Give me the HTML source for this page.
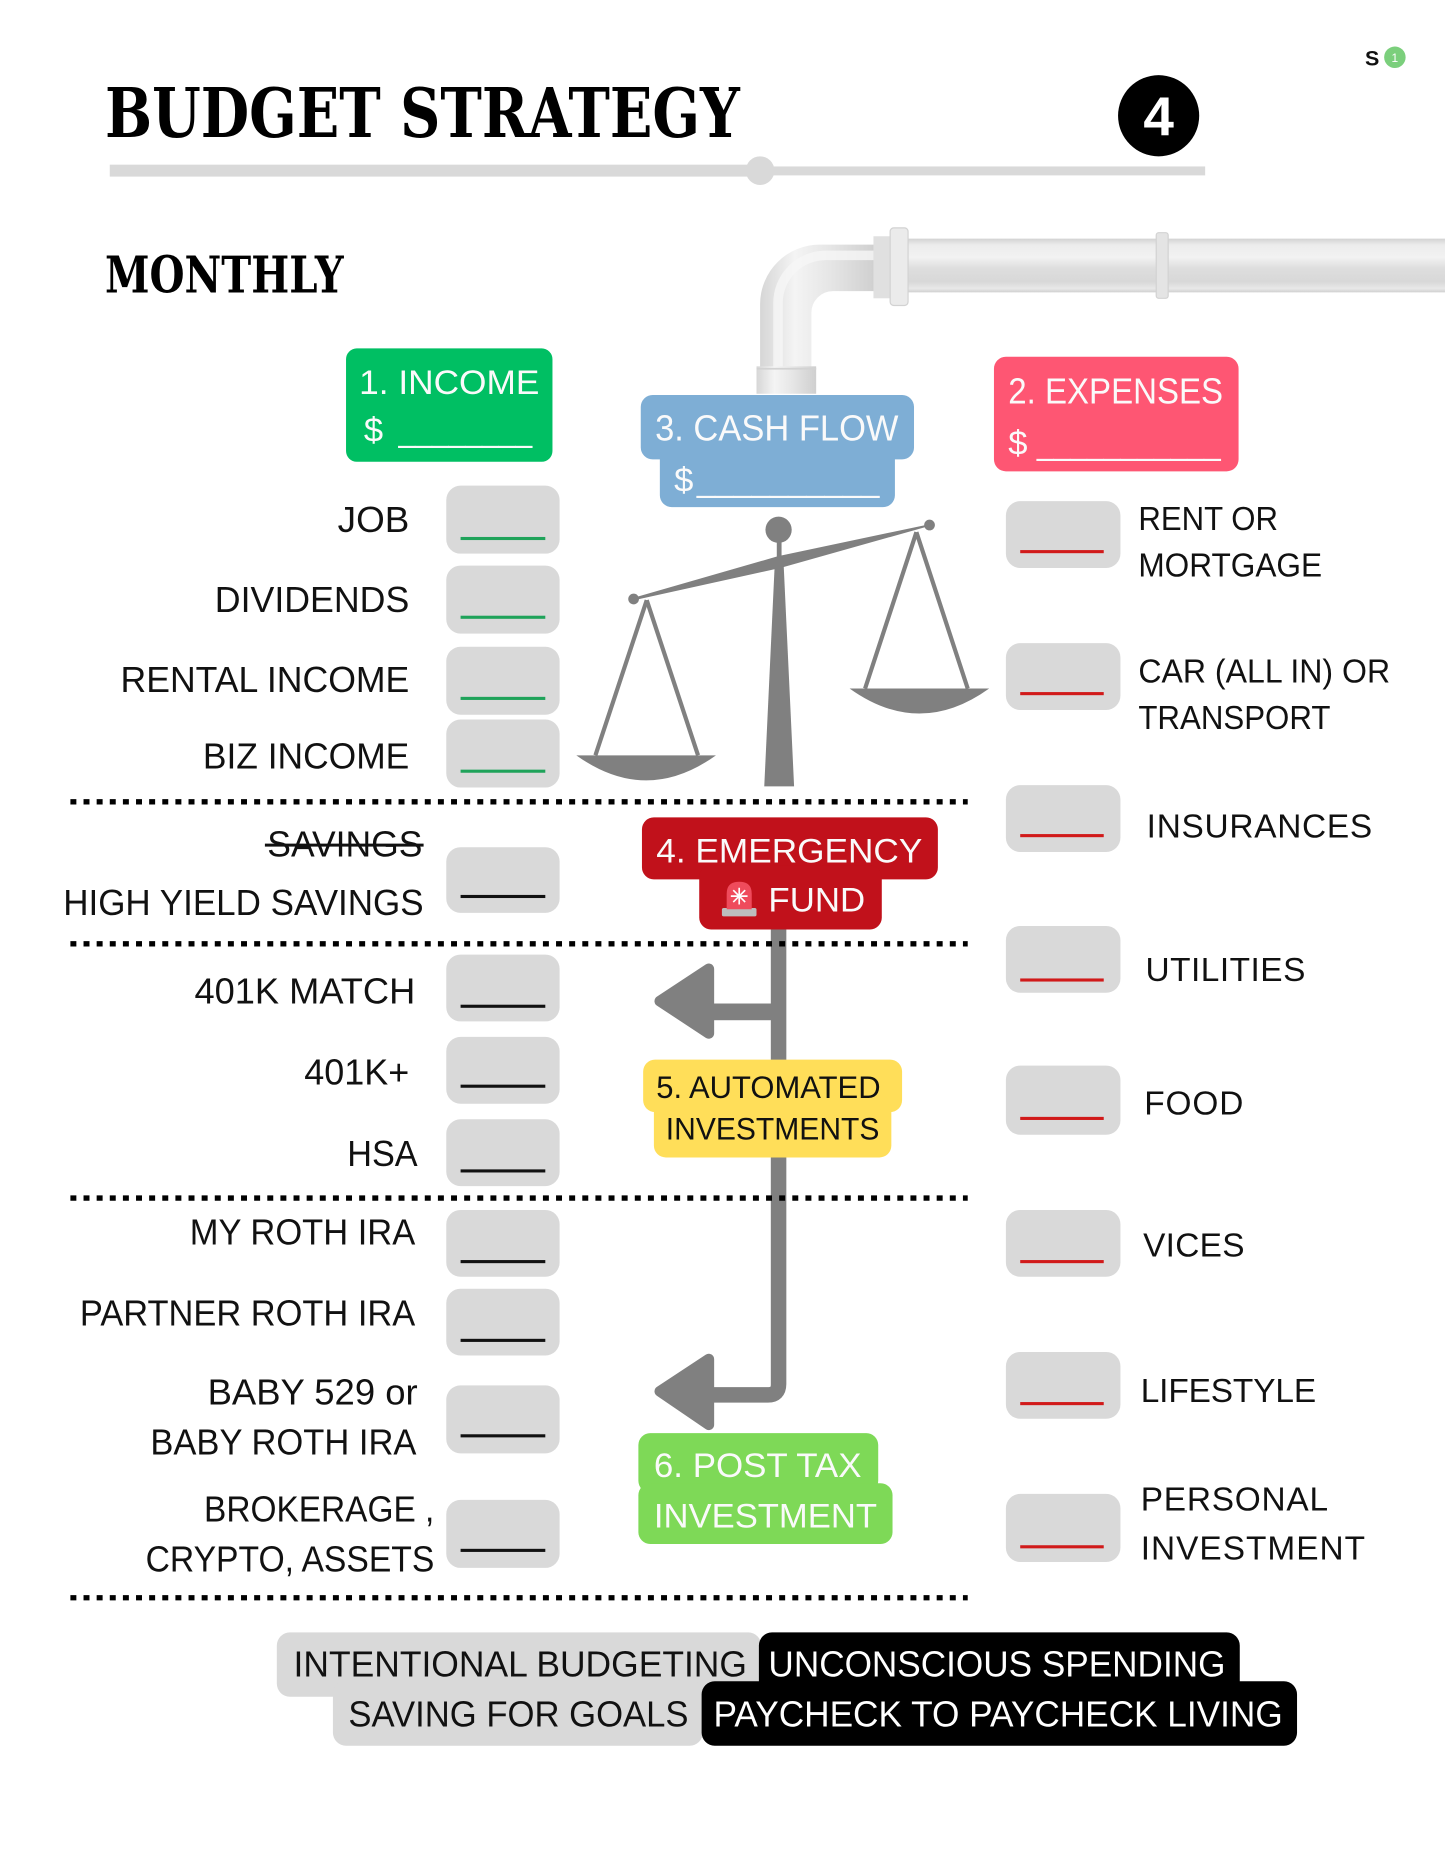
<!DOCTYPE html>
<html>
<head>
<meta charset="utf-8">
<style>
html,body{margin:0;padding:0;background:#fff;}
svg{display:block;}
text{font-family:"Liberation Sans","DejaVu Sans",sans-serif;}
.ser{font-family:"DejaVu Serif","Liberation Serif",serif;font-weight:bold;}
.lbl{font-size:30px;fill:#111;}
.rl{font-size:28px;fill:#111;}
.wt{fill:#fafafa;}
</style>
</head>
<body>
<svg width="1445" height="1871" viewBox="0 0 1211 1568" preserveAspectRatio="none" xmlns="http://www.w3.org/2000/svg">
<defs>
<linearGradient id="hp" x1="0" y1="0" x2="0" y2="1">
<stop offset="0" stop-color="#d2d2d2"/>
<stop offset="0.12" stop-color="#ececec"/>
<stop offset="0.35" stop-color="#f2f2f2"/>
<stop offset="0.55" stop-color="#dedede"/>
<stop offset="0.8" stop-color="#d8d8d8"/>
<stop offset="0.93" stop-color="#e8e8e8"/>
<stop offset="1" stop-color="#cfcfcf"/>
</linearGradient>
<linearGradient id="vp" x1="0" y1="0" x2="1" y2="0">
<stop offset="0" stop-color="#d6d6d6"/>
<stop offset="0.3" stop-color="#f4f4f4"/>
<stop offset="0.6" stop-color="#e6e6e6"/>
<stop offset="1" stop-color="#cfcfcf"/>
</linearGradient>
</defs>
<rect x="0" y="0" width="1211" height="1568" fill="#ffffff"/>

<!-- Header -->
<text class="ser" x="88" y="115" font-size="57" textLength="532" lengthAdjust="spacingAndGlyphs" fill="#000">BUDGET STRATEGY</text>
<circle cx="971" cy="97" r="34" fill="#000"/>
<text x="971" y="113" font-size="46" font-weight="bold" fill="#fff" text-anchor="middle">4</text>
<text x="1144" y="55" font-size="18" font-weight="bold" fill="#111">S</text>
<circle cx="1169" cy="48" r="9" fill="#7bcf7c"/>
<text x="1169" y="52" font-size="10" fill="#fff" text-anchor="middle">1</text>

<rect x="92" y="138" width="545" height="10" fill="#d9d9d9"/>
<rect x="637" y="139.5" width="373" height="7.5" fill="#d9d9d9"/>
<circle cx="637" cy="143" r="12" fill="#d9d9d9"/>

<text class="ser" x="88" y="245" font-size="42" textLength="200" lengthAdjust="spacingAndGlyphs" fill="#000">MONTHLY</text>

<!-- Pipe -->
<rect x="740" y="200" width="471" height="45" fill="url(#hp)"/>
<path d="M734 205 H687 A50 50 0 0 0 637 255 V309 H680 V262 A18 18 0 0 1 698 244 H734 Z" fill="url(#vp)"/>
<path d="M734 214 H692 A40 40 0 0 0 652 254 V309" fill="none" stroke="#f6f6f6" stroke-width="8" opacity="0.8"/>
<rect x="732" y="198" width="15" height="52" fill="#e0e0e0"/>
<rect x="746" y="191" width="15" height="65" rx="3" fill="#ebebeb" stroke="#d2d2d2" stroke-width="1"/>
<rect x="969" y="195" width="10" height="55" rx="2" fill="#e4e4e4" stroke="#d2d2d2" stroke-width="1"/>
<rect x="634" y="307" width="50" height="23" fill="url(#vp)"/>
<line x1="634" y1="309" x2="684" y2="309" stroke="#d2d2d2" stroke-width="1.5"/>

<!-- Income box -->
<rect x="290" y="292" width="173" height="95" rx="9" fill="#00bf63"/>
<text class="wt" x="301" y="330" font-size="29" textLength="151" lengthAdjust="spacingAndGlyphs">1. INCOME</text>
<text class="wt" x="305" y="370" font-size="29">$</text>
<text class="wt" x="334" y="370" font-size="28" textLength="112" lengthAdjust="spacingAndGlyphs">________</text>

<!-- Cash flow box -->
<rect x="537" y="331" width="229" height="54" rx="10" fill="#7eaed5"/>
<rect x="553" y="372" width="197" height="53" rx="10" fill="#7eaed5"/>
<text class="wt" x="549" y="369" font-size="30" textLength="204" lengthAdjust="spacingAndGlyphs">3. CASH FLOW</text>
<text class="wt" x="565" y="412" font-size="29">$</text>
<text class="wt" x="584" y="412" font-size="28" textLength="153" lengthAdjust="spacingAndGlyphs">__________</text>

<!-- Expenses box -->
<rect x="833" y="299" width="205" height="96" rx="10" fill="#fe5673"/>
<text class="wt" x="845" y="338" font-size="30" textLength="180" lengthAdjust="spacingAndGlyphs">2. EXPENSES</text>
<text class="wt" x="845" y="381" font-size="29">$</text>
<text class="wt" x="869" y="381" font-size="28" textLength="154" lengthAdjust="spacingAndGlyphs">___________</text>

<!-- Scale -->
<g fill="#808080" stroke="none">
<rect x="651" y="444" width="4" height="30"/>
<circle cx="652.5" cy="444" r="11"/>
<polygon points="649.5,468 656.5,468 665.5,659 640.5,659"/>
<polygon points="530.8,501 651.8,466.2 779,439.3 779.2,440.7 654.2,475.9 531.2,503"/>
<circle cx="531" cy="502" r="4.5"/>
<circle cx="779" cy="440" r="4.5"/>
<path d="M483 633 H600 Q541.5 675 483 633 Z"/>
<path d="M712 577 H829 Q770.5 619 712 577 Z"/>
</g>
<g stroke="#808080" stroke-width="3.5" fill="none">
<line x1="542" y1="503" x2="499" y2="633"/>
<line x1="542" y1="503" x2="585" y2="633"/>
<line x1="768" y1="446" x2="725" y2="577"/>
<line x1="768" y1="446" x2="811" y2="577"/>
</g>

<!-- Connector & arrows -->
<path d="M652.5 775 V1160 Q652.5 1169 643.5 1169 H590" fill="none" stroke="#808080" stroke-width="13"/>
<rect x="590" y="841" width="62" height="14" fill="#808080"/>
<polygon points="553,839 594,812 594,866" fill="#808080" stroke="#808080" stroke-width="9" stroke-linejoin="round"/>
<polygon points="553,1166 594,1139 594,1194" fill="#808080" stroke="#808080" stroke-width="9" stroke-linejoin="round"/>

<!-- Emergency fund -->
<rect x="538" y="685" width="248" height="52" rx="10" fill="#c1111b"/>
<rect x="586" y="725" width="153" height="54" rx="10" fill="#c1111b"/>
<text class="wt" x="550" y="723" font-size="29" textLength="223" lengthAdjust="spacingAndGlyphs">4.  EMERGENCY</text>
<rect x="605" y="761" width="29" height="7" rx="1.5" fill="#bdbdbd"/>
<path d="M609 762 V749 Q609 739 619.5 739 Q630 739 630 749 V762 Z" fill="#ef4b5c"/>
<g stroke="#fff" stroke-width="1.4">
<line x1="619.5" y1="744" x2="619.5" y2="758"/>
<line x1="612.5" y1="751" x2="626.5" y2="751"/>
<line x1="614.5" y1="746" x2="624.5" y2="756"/>
<line x1="624.5" y1="746" x2="614.5" y2="756"/>
</g>
<text class="wt" x="644" y="764" font-size="29" textLength="81" lengthAdjust="spacingAndGlyphs">FUND</text>

<!-- Automated investments -->
<rect x="539" y="888" width="217" height="44" rx="10" fill="#ffde59"/>
<rect x="548" y="918" width="199" height="52" rx="10" fill="#ffde59"/>
<text x="550" y="920" font-size="26" textLength="188" lengthAdjust="spacingAndGlyphs" fill="#111">5. AUTOMATED</text>
<text x="558" y="955" font-size="26" textLength="179" lengthAdjust="spacingAndGlyphs" fill="#111">INVESTMENTS</text>

<!-- Post tax -->
<rect x="535" y="1201" width="201" height="50" rx="10" fill="#7ed957"/>
<rect x="535" y="1243" width="213" height="51" rx="10" fill="#7ed957"/>
<text class="wt" x="548" y="1238" font-size="29" textLength="174" lengthAdjust="spacingAndGlyphs">6. POST TAX</text>
<text class="wt" x="548" y="1280" font-size="29" textLength="187" lengthAdjust="spacingAndGlyphs">INVESTMENT</text>

<!-- Left boxes -->
<g fill="#d9d9d9">
<rect x="374" y="407" width="95" height="57" rx="12"/>
<rect x="374" y="474" width="95" height="57" rx="12"/>
<rect x="374" y="542" width="95" height="57" rx="12"/>
<rect x="374" y="603" width="95" height="57" rx="12"/>
<rect x="374" y="710" width="95" height="55" rx="12"/>
<rect x="374" y="800" width="95" height="56" rx="12"/>
<rect x="374" y="869" width="95" height="56" rx="12"/>
<rect x="374" y="938" width="95" height="56" rx="12"/>
<rect x="374" y="1014" width="95" height="56" rx="12"/>
<rect x="374" y="1080" width="95" height="56" rx="12"/>
<rect x="374" y="1161" width="95" height="57" rx="12"/>
<rect x="374" y="1257" width="95" height="57" rx="12"/>
</g>
<g fill="#1fa35a">
<rect x="386" y="450" width="71" height="2.6"/>
<rect x="386" y="516" width="71" height="2.6"/>
<rect x="386" y="584" width="71" height="2.6"/>
<rect x="386" y="645" width="71" height="2.6"/>
</g>
<g fill="#111">
<rect x="386" y="750" width="71" height="2.6"/>
<rect x="386" y="842" width="71" height="2.6"/>
<rect x="386" y="909" width="71" height="2.6"/>
<rect x="386" y="980" width="71" height="2.6"/>
<rect x="386" y="1056" width="71" height="2.6"/>
<rect x="386" y="1122" width="71" height="2.6"/>
<rect x="386" y="1202" width="71" height="2.6"/>
<rect x="386" y="1298" width="71" height="2.6"/>
</g>

<!-- Left labels -->
<text class="lbl" x="283" y="446" textLength="60" lengthAdjust="spacingAndGlyphs">JOB</text>
<text class="lbl" x="180" y="513" textLength="163" lengthAdjust="spacingAndGlyphs">DIVIDENDS</text>
<text class="lbl" x="101" y="580" textLength="242" lengthAdjust="spacingAndGlyphs">RENTAL INCOME</text>
<text class="lbl" x="170" y="644" textLength="173" lengthAdjust="spacingAndGlyphs">BIZ INCOME</text>
<text class="lbl" x="224" y="718" textLength="130" lengthAdjust="spacingAndGlyphs">SAVINGS</text>
<rect x="222" y="707" width="133" height="2.5" fill="#111"/>
<text class="lbl" x="53" y="767" textLength="302" lengthAdjust="spacingAndGlyphs">HIGH YIELD SAVINGS</text>
<text class="lbl" x="163" y="841" textLength="185" lengthAdjust="spacingAndGlyphs">401K MATCH</text>
<text class="lbl" x="255" y="909" textLength="88" lengthAdjust="spacingAndGlyphs">401K+</text>
<text class="lbl" x="291" y="977" textLength="59" lengthAdjust="spacingAndGlyphs">HSA</text>
<text class="lbl" x="159" y="1043" textLength="189" lengthAdjust="spacingAndGlyphs">MY ROTH IRA</text>
<text class="lbl" x="67" y="1111" textLength="281" lengthAdjust="spacingAndGlyphs">PARTNER ROTH IRA</text>
<text class="lbl" x="174" y="1177" textLength="176" lengthAdjust="spacingAndGlyphs">BABY 529 or</text>
<text class="lbl" x="126" y="1219" textLength="223" lengthAdjust="spacingAndGlyphs">BABY ROTH IRA</text>
<text class="lbl" x="171" y="1275" textLength="193" lengthAdjust="spacingAndGlyphs">BROKERAGE ,</text>
<text class="lbl" x="122" y="1317" textLength="242" lengthAdjust="spacingAndGlyphs">CRYPTO, ASSETS</text>

<!-- Right boxes -->
<g fill="#d9d9d9">
<rect x="843" y="420" width="96" height="56" rx="12"/>
<rect x="843" y="539" width="96" height="56" rx="12"/>
<rect x="843" y="658" width="96" height="56" rx="12"/>
<rect x="843" y="776" width="96" height="56" rx="12"/>
<rect x="843" y="893" width="96" height="58" rx="12"/>
<rect x="843" y="1014" width="96" height="56" rx="12"/>
<rect x="843" y="1133" width="96" height="56" rx="12"/>
<rect x="843" y="1252" width="96" height="57" rx="12"/>
</g>
<g fill="#d11a1a">
<rect x="855" y="461" width="70" height="2.6"/>
<rect x="855" y="580" width="70" height="2.6"/>
<rect x="855" y="699" width="70" height="2.6"/>
<rect x="855" y="820" width="70" height="2.6"/>
<rect x="855" y="936" width="70" height="2.6"/>
<rect x="855" y="1056" width="70" height="2.6"/>
<rect x="855" y="1175" width="70" height="2.6"/>
<rect x="855" y="1295" width="70" height="2.6"/>
</g>

<!-- Right labels -->
<text class="rl" x="954" y="444" textLength="117" lengthAdjust="spacingAndGlyphs">RENT OR</text>
<text class="rl" x="954" y="483" textLength="154" lengthAdjust="spacingAndGlyphs">MORTGAGE</text>
<text class="rl" x="954" y="572" textLength="211" lengthAdjust="spacingAndGlyphs">CAR (ALL IN) OR</text>
<text class="rl" x="954" y="611" textLength="161" lengthAdjust="spacingAndGlyphs">TRANSPORT</text>
<text class="rl" x="961" y="702" textLength="189">INSURANCES</text>
<text class="rl" x="960" y="822" textLength="134">UTILITIES</text>
<text class="rl" x="959" y="934" textLength="83">FOOD</text>
<text class="rl" x="958" y="1053" textLength="85">VICES</text>
<text class="rl" x="956" y="1175" textLength="147">LIFESTYLE</text>
<text class="rl" x="956" y="1266" textLength="157">PERSONAL</text>
<text class="rl" x="956" y="1307" textLength="188">INVESTMENT</text>

<!-- Dotted separators -->
<g stroke="#000" stroke-width="4.5" stroke-dasharray="5 6">
<line x1="59" y1="672" x2="811" y2="672"/>
<line x1="59" y1="791" x2="811" y2="791"/>
<line x1="59" y1="1004" x2="811" y2="1004"/>
<line x1="59" y1="1339" x2="811" y2="1339"/>
</g>

<!-- Bottom labels -->
<rect x="232" y="1368" width="406" height="54" rx="11" fill="#d9d9d9"/>
<rect x="279" y="1408" width="310" height="55" rx="11" fill="#d9d9d9"/>
<rect x="636" y="1368" width="403" height="52" rx="11" fill="#000"/>
<rect x="588" y="1409" width="499" height="54" rx="11" fill="#000"/>
<text x="246" y="1405" font-size="30" textLength="380" lengthAdjust="spacingAndGlyphs" fill="#111">INTENTIONAL BUDGETING</text>
<text x="644" y="1405" font-size="30" textLength="383" lengthAdjust="spacingAndGlyphs" fill="#fff">UNCONSCIOUS SPENDING</text>
<text x="292" y="1447" font-size="30" textLength="285" lengthAdjust="spacingAndGlyphs" fill="#111">SAVING FOR GOALS</text>
<text x="598" y="1447" font-size="30" textLength="477" lengthAdjust="spacingAndGlyphs" fill="#fff">PAYCHECK TO PAYCHECK LIVING</text>
</svg>
</body>
</html>
